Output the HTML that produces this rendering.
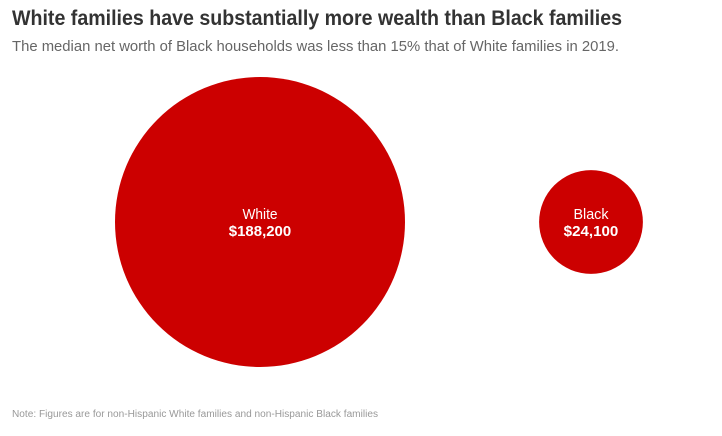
<!DOCTYPE html>
<html><head><meta charset="utf-8"><style>
html,body{margin:0;padding:0;background:#fff;}
svg{display:block;}
</style></head><body>
<svg width="722" height="436">
<text x="12" y="25" font-family="'Liberation Sans Narrow','Liberation Sans',sans-serif" font-weight="bold" font-size="21" fill="#333" textLength="610" lengthAdjust="spacingAndGlyphs">White families have substantially more wealth than Black families</text>
<text x="12" y="51" font-family="'Liberation Sans',sans-serif" font-size="14.5" fill="#666" textLength="607" lengthAdjust="spacingAndGlyphs">The median net worth of Black households was less than 15% that of White families in 2019.</text>
<g id="bubbles"></g>
<text x="12" y="417" font-family="'Liberation Sans Narrow','Liberation Sans',sans-serif" font-size="10" fill="#999" textLength="366" lengthAdjust="spacingAndGlyphs">Note: Figures are for non-Hispanic White families and non-Hispanic Black families</text>
</svg>
<script>
const categories = ["White", "Black"];
const values = [188200, 24100];
const valueLabels = ["$188,200", "$24,100"];
const centersX = [260, 591];
const centerY = 222;
const maxR = 145;
function rScale(v){ return maxR * Math.sqrt(v / Math.max(...values)); }
const g = document.getElementById('bubbles');
const NS = 'http://www.w3.org/2000/svg';
categories.forEach((c, i) => {
  const circ = document.createElementNS(NS, 'circle');
  circ.setAttribute('cx', centersX[i]);
  circ.setAttribute('cy', centerY);
  circ.setAttribute('r', rScale(values[i]));
  circ.setAttribute('fill', '#cc0000');
  
  
  g.appendChild(circ);
  const t1 = document.createElementNS(NS, 'text');
  t1.setAttribute('x', centersX[i]);
  t1.setAttribute('y', centerY - 3);
  t1.setAttribute('text-anchor', 'middle');
  t1.setAttribute('fill', '#fff');
  t1.setAttribute('font-family', "'Liberation Sans Narrow','Liberation Sans',sans-serif");
  t1.setAttribute('font-size', '15');
  t1.setAttribute('textLength', c.length * 7);
  t1.setAttribute('lengthAdjust', 'spacingAndGlyphs');
  t1.textContent = c;
  
  
  g.appendChild(t1);
  const t2 = document.createElementNS(NS, 'text');
  t2.setAttribute('x', centersX[i]);
  t2.setAttribute('y', centerY + 14);
  t2.setAttribute('text-anchor', 'middle');
  t2.setAttribute('fill', '#fff');
  t2.setAttribute('font-weight', 'bold');
  t2.setAttribute('font-family', "'Liberation Sans Narrow','Liberation Sans',sans-serif");
  t2.setAttribute('font-size', '15');
  t2.setAttribute('textLength', valueLabels[i].length * 7.8);
  t2.setAttribute('lengthAdjust', 'spacingAndGlyphs');
  t2.textContent = valueLabels[i];
  
  
  g.appendChild(t2);
});
</script>
</body></html>
